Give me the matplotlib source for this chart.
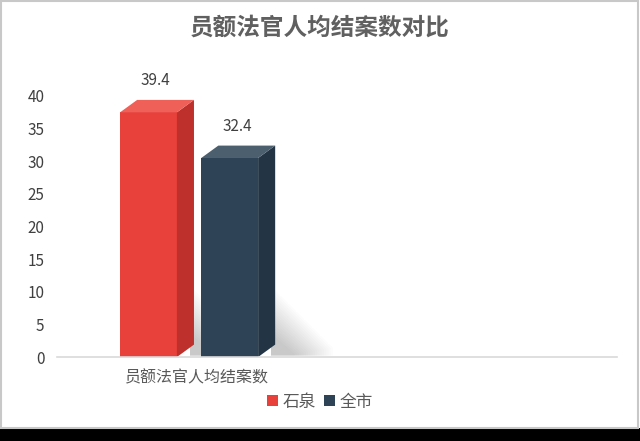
import matplotlib
matplotlib.use("Agg")
import matplotlib.pyplot as plt
from matplotlib.patches import Polygon, Rectangle, Patch

plt.rcParams['font.family'] = ['Noto Sans CJK SC', 'DejaVu Sans']

title = "员额法官人均结案数对比"
category = "员额法官人均结案数"
series = ["石泉", "全市"]
values = [39.4, 32.4]
yticks = [0, 5, 10, 15, 20, 25, 30, 35, 40]

front_colors = ["#E8403A", "#2E4456"]
side_colors = ["#BE302B", "#233544"]
top_colors = ["#EE6058", "#4B5F6F"]

offsets = [-0.5, 0.5]
width = 0.7
dx = 0.21   # 3d depth, x units
dy = 1.9    # 3d depth, y units

fig = plt.figure(figsize=(6.4, 4.41), dpi=100)
ax = fig.add_axes([57 / 640, (441 - 357) / 441, 560 / 640, 261 / 441])
ax.set_xlim(-1.627, 5.27)
ax.set_ylim(0, 40)

# soft floor shadows behind the bars (stacked faint layers)
n_layers = 18
for off in offsets:
    xr = off + width / 2 + dx
    for k in range(n_layers):
        s = 1.15 - k * 0.045
        shadow = Polygon([(xr - 0.05, 0.2), (xr - 0.05, 9.5 * s),
                          (xr + 0.62 * s, 1.2 * s), (xr + 0.62 * s, 0.2)],
                         closed=True, facecolor="#000000", alpha=0.011,
                         edgecolor="none", zorder=1)
        ax.add_patch(shadow)

for off, v, fc, sc, tc in zip(offsets, values, front_colors, side_colors, top_colors):
    x0 = off - width / 2
    x1 = off + width / 2
    ax.add_patch(Rectangle((x0, 0), width, v - dy, facecolor=fc,
                           edgecolor="none", zorder=3))
    ax.add_patch(Polygon([(x1, 0), (x1 + dx, dy), (x1 + dx, v), (x1, v - dy)],
                         closed=True, facecolor=sc, edgecolor="none", zorder=3))
    ax.add_patch(Polygon([(x0, v - dy), (x0 + dx, v), (x1 + dx, v), (x1, v - dy)],
                         closed=True, facecolor=tc, edgecolor="none", zorder=3))
    ax.text(off + 0.09, v + 3.0, f"{v:.1f}", ha="center", va="center",
            fontsize=11, color="#404040", clip_on=False)

for sp in ["top", "right", "left"]:
    ax.spines[sp].set_visible(False)
ax.spines["bottom"].set_color("#D9D9D9")
ax.spines["bottom"].set_linewidth(1.2)
ax.spines["bottom"].set_zorder(4)

ax.set_yticks(yticks)
ax.set_yticklabels([str(t) for t in yticks])
ax.set_xticks([0.1])
ax.set_xticklabels([category])
ax.tick_params(axis="y", length=0, pad=9, labelsize=11, labelcolor="#404040")
ax.tick_params(axis="x", length=0, pad=9, labelsize=11.5, labelcolor="#595959")

fig.text(0.5, (441 - 28) / 441, title, ha="center", va="center",
         fontsize=17, fontweight="bold", color="#606060")

handles = [Patch(facecolor=c, edgecolor="none") for c in front_colors]
fig.legend(handles, series, loc="center", bbox_to_anchor=(0.5, (441 - 402) / 441),
           ncol=2, frameon=False, fontsize=12, handlelength=0.65,
           handleheight=0.65, handletextpad=0.3, columnspacing=0.5,
           labelcolor="#595959")

# image frame and dark strip at the bottom
fig.patches.append(Rectangle((0, 0), 1, 13 / 441, transform=fig.transFigure,
                             facecolor="black", edgecolor="none", zorder=10))
fig.patches.append(Rectangle((1 / 640, 13 / 441), 637 / 640, 427 / 441,
                             transform=fig.transFigure, facecolor="none",
                             edgecolor="#C8C8C8", linewidth=1.5, zorder=10))

fig.savefig("out.png", dpi=100, facecolor="white")
